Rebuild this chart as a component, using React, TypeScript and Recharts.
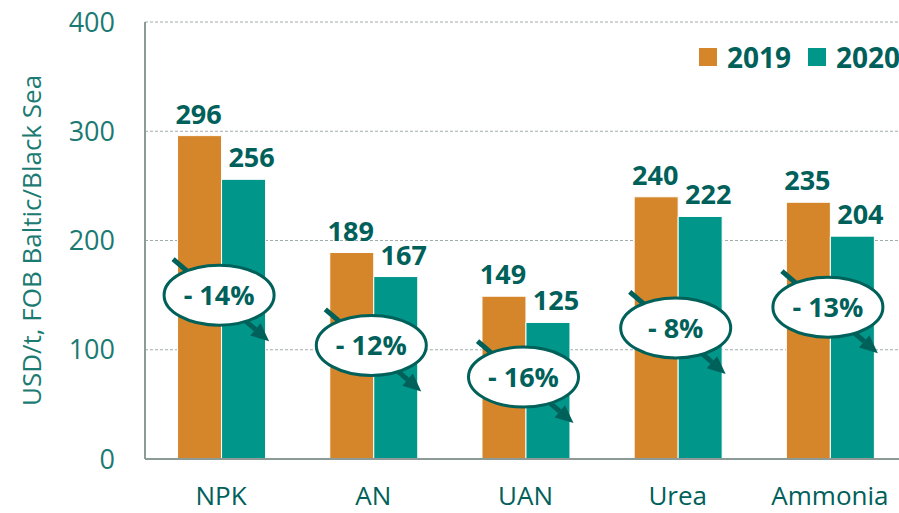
import React from 'react';
import {
  BarChart,
  Bar,
  XAxis,
  YAxis,
  CartesianGrid,
  Legend,
  LabelList,
  ReferenceDot,
} from 'recharts';

const categories = ['NPK', 'AN', 'UAN', 'Urea', 'Ammonia'];
const values2019 = [296, 189, 149, 240, 235];
const values2020 = [256, 167, 125, 222, 204];
const changeLabels = ['- 14%', '- 12%', '- 16%', '- 8%', '- 13%'];
// where each change bubble sits, in axis units
const calloutLevels = [150, 104, 75, 120, 139];
const yTicks = [0, 100, 200, 300, 400];

const FONT = '"Open Sans", sans-serif';
const ORANGE = '#D5862A';
const TEAL = '#00978A';
const DARK = '#00605A';
const TICK = '#1B7A72';
const AXIS = '#8C9A98';

const rows = categories.map((name, i) => ({
  name,
  y2019: values2019[i],
  y2020: values2020[i],
}));

const valueLabel = (dx: number) => (props: any) => {
  const { x, y, width, value } = props;
  return (
    <text
      x={x + width / 2 + dx}
      y={y - 12}
      textAnchor="middle"
      fill={DARK}
      fontSize={27}
      fontWeight={700}
      fontFamily={FONT}
    >
      {value}
    </text>
  );
};

const Callout = ({ cx, cy, text }: { cx: number; cy: number; text: string }) => {
  const x1 = cx - 46;
  const y1 = cy - 36;
  const x2 = cx + 50;
  const y2 = cy + 46;
  const ang = Math.atan2(y2 - y1, x2 - x1);
  const head = 18;
  const half = 8;
  const bx = x2 - head * Math.cos(ang);
  const by = y2 - head * Math.sin(ang);
  const px = -Math.sin(ang) * half;
  const py = Math.cos(ang) * half;
  return (
    <g>
      <line x1={x1} y1={y1} x2={bx} y2={by} stroke={DARK} strokeWidth={5} />
      <polygon
        points={`${x2},${y2} ${bx + px},${by + py} ${bx - px},${by - py}`}
        fill={DARK}
      />
      <ellipse cx={cx} cy={cy} rx={55} ry={30} fill="#fff" stroke={DARK} strokeWidth={3} />
      <text
        x={cx}
        y={cy + 10}
        textAnchor="middle"
        fill={DARK}
        fontSize={27}
        fontWeight={700}
        fontFamily={FONT}
      >
        {text}
      </text>
    </g>
  );
};

const renderLegend = (props: any) => {
  const { payload } = props;
  return (
    <div style={{ display: 'flex', alignItems: 'center', fontFamily: FONT }}>
      {payload.map((entry: any, i: number) => (
        <div
          key={entry.value}
          style={{ display: 'flex', alignItems: 'center', marginLeft: i === 0 ? 0 : 17 }}
        >
          <div style={{ width: 18, height: 18, background: entry.color, marginRight: 10 }} />
          <span style={{ fontSize: 28, fontWeight: 700, color: DARK, lineHeight: '36px' }}>
            {entry.value}
          </span>
        </div>
      ))}
    </div>
  );
};

const yAxisLabel = (props: any) => {
  const { viewBox } = props;
  const cy = viewBox.y + viewBox.height / 2;
  return (
    <text
      x={31}
      y={cy}
      transform={`rotate(-90, 31, ${cy})`}
      textAnchor="middle"
      dominantBaseline="central"
      fill={TICK}
      fontSize={26}
      fontFamily={FONT}
    >
      USD/t, FOB Baltic/Black Sea
    </text>
  );
};

export default function App() {
  return (
    <div
      style={{
        position: 'absolute',
        left: 0,
        top: 0,
        width: 899,
        height: 513,
        overflow: 'hidden',
        background: '#fff',
      }}
    >
      <BarChart
        width={910}
        height={513}
        data={rows}
        margin={{ top: 22, right: 4, bottom: 0, left: 0 }}
        barCategoryGap="21.4%"
        barGap={0}
      >
        <CartesianGrid vertical={false} stroke="#A3ADAB" strokeDasharray="3 2" />
        <XAxis
          dataKey="name"
          height={54}
          tickLine={false}
          tickSize={28}
          tickMargin={0}
          axisLine={{ stroke: AXIS, strokeWidth: 2 }}
          tick={{ fill: DARK, fontSize: 26, fontFamily: FONT }}
        />
        <YAxis
          width={145}
          domain={[0, 400]}
          ticks={yTicks}
          interval={0}
          tickLine={false}
          tickSize={28}
          axisLine={{ stroke: AXIS, strokeWidth: 2 }}
          tick={{ fill: TICK, fontSize: 27, fontFamily: FONT }}
          label={yAxisLabel}
        />
        <Legend
          layout="horizontal"
          verticalAlign="middle"
          align="center"
          content={renderLegend}
          wrapperStyle={{ top: 39, left: 699, width: 220, height: 36 }}
        />
        <Bar dataKey="y2019" name="2019" fill={ORANGE} stroke="#fff" strokeWidth={1} isAnimationActive={false}>
          <LabelList dataKey="y2019" content={valueLabel(-1)} />
        </Bar>
        <Bar dataKey="y2020" name="2020" fill={TEAL} stroke="#fff" strokeWidth={1} isAnimationActive={false}>
          <LabelList dataKey="y2020" content={valueLabel(8)} />
        </Bar>
        {categories.map((c, i) => (
          <ReferenceDot
            key={c}
            x={c}
            y={calloutLevels[i]}
            r={0}
            ifOverflow="visible"
            shape={(p: any) => <Callout cx={p.cx - 2} cy={p.cy} text={changeLabels[i]} />}
          />
        ))}
      </BarChart>
    </div>
  );
}
